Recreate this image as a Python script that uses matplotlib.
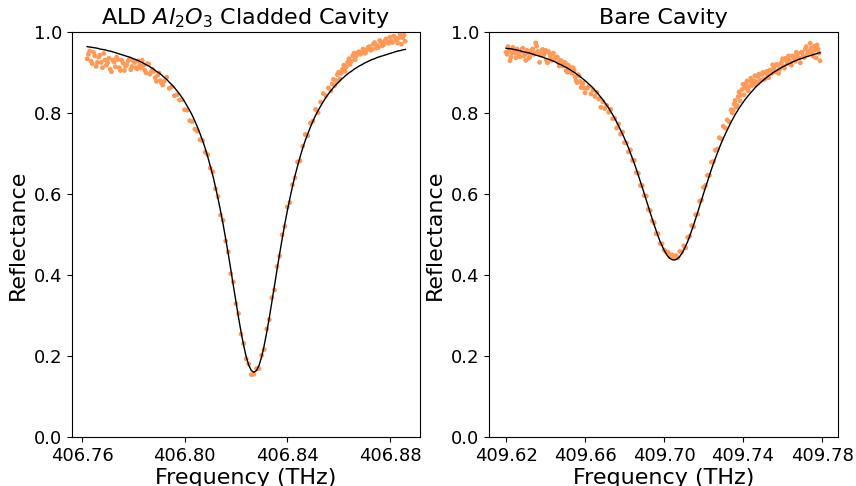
import matplotlib
matplotlib.use("Agg")
import matplotlib.pyplot as plt

# ---- left panel: ALD Al2O3 cladded cavity ----
freq_clad = [
    406.762, 406.763, 406.764, 406.765, 406.766, 406.767, 406.768, 406.769, 406.770, 406.771,
    406.772, 406.773, 406.774, 406.775, 406.776, 406.777, 406.778, 406.779, 406.780, 406.781,
    406.782, 406.783, 406.784, 406.785, 406.786, 406.787, 406.788, 406.789, 406.790, 406.791,
    406.792, 406.793, 406.794, 406.795, 406.796, 406.797, 406.798, 406.799, 406.800, 406.801,
    406.802, 406.803, 406.804, 406.805, 406.806, 406.807, 406.808, 406.809, 406.810, 406.811,
    406.812, 406.813, 406.814, 406.815, 406.816, 406.817, 406.818, 406.819, 406.820, 406.821,
    406.822, 406.823, 406.824, 406.825, 406.826, 406.827, 406.828, 406.829, 406.830, 406.831,
    406.832, 406.833, 406.834, 406.835, 406.836, 406.837, 406.838, 406.839, 406.840, 406.841,
    406.842, 406.843, 406.844, 406.845, 406.846, 406.847, 406.848, 406.849, 406.850, 406.851,
    406.852, 406.853, 406.854, 406.855, 406.856, 406.857, 406.858, 406.859, 406.860, 406.861,
    406.862, 406.863, 406.864, 406.865, 406.866, 406.867, 406.868, 406.869, 406.870, 406.871,
    406.872, 406.873, 406.874, 406.875, 406.876, 406.877, 406.878, 406.879, 406.880, 406.881,
    406.882, 406.883, 406.884, 406.885, 406.886,
]
refl_clad = [
    0.934, 0.953, 0.922, 0.941, 0.925, 0.943, 0.912, 0.931, 0.924, 0.908,
    0.931, 0.914, 0.932, 0.905, 0.923, 0.916, 0.929, 0.907, 0.929, 0.912,
    0.929, 0.911, 0.918, 0.899, 0.921, 0.902, 0.903, 0.878, 0.899, 0.874,
    0.878, 0.888, 0.861, 0.865, 0.843, 0.845, 0.832, 0.833, 0.808, 0.807,
    0.781, 0.779, 0.760, 0.755, 0.734, 0.732, 0.703, 0.697, 0.664, 0.655,
    0.613, 0.594, 0.548, 0.535, 0.484, 0.457, 0.403, 0.383, 0.329, 0.305,
    0.254, 0.231, 0.193, 0.180, 0.154, 0.155, 0.169, 0.169, 0.202, 0.216,
    0.267, 0.290, 0.344, 0.363, 0.421, 0.447, 0.499, 0.520, 0.568, 0.579,
    0.623, 0.640, 0.679, 0.682, 0.718, 0.747, 0.744, 0.775, 0.780, 0.809,
    0.801, 0.827, 0.848, 0.843, 0.862, 0.855, 0.883, 0.880, 0.901, 0.898,
    0.918, 0.914, 0.934, 0.928, 0.948, 0.942, 0.951, 0.949, 0.948, 0.956,
    0.964, 0.957, 0.974, 0.967, 0.979, 0.966, 0.978, 0.975, 0.987, 0.974,
    0.986, 0.973, 0.994, 0.986, 0.977,
]
# extra samples in the two flat wings (half steps)
freq_clad_lo = [
    406.7625, 406.7635, 406.7645, 406.7655, 406.7665, 406.7675, 406.7685, 406.7695, 406.7705, 406.7715,
    406.7725, 406.7735, 406.7745, 406.7755, 406.7765, 406.7775, 406.7785, 406.7795, 406.7805, 406.7815,
    406.7825, 406.7835, 406.7845, 406.7855, 406.7865, 406.7875, 406.7885, 406.7895, 406.7905, 406.7915,
]
refl_clad_lo = [
    0.945, 0.928, 0.950, 0.915, 0.938, 0.925, 0.947, 0.918, 0.935, 0.902,
    0.926, 0.938, 0.912, 0.930, 0.905, 0.921, 0.933, 0.915, 0.925, 0.909,
    0.918, 0.930, 0.905, 0.922, 0.896, 0.908, 0.887, 0.893, 0.880, 0.869,
]
freq_clad_hi = [
    406.8575, 406.8585, 406.8595, 406.8605, 406.8615, 406.8625, 406.8635, 406.8645, 406.8655, 406.8665,
    406.8675, 406.8685, 406.8695, 406.8705, 406.8715, 406.8725, 406.8735, 406.8745, 406.8755, 406.8765,
    406.8775, 406.8785, 406.8795, 406.8805, 406.8815, 406.8825, 406.8835, 406.8845, 406.8855,
]
refl_clad_hi = [
    0.872, 0.868, 0.895, 0.884, 0.908, 0.903, 0.925, 0.920, 0.941, 0.932,
    0.950, 0.945, 0.958, 0.948, 0.962, 0.955, 0.970, 0.960, 0.962, 0.975,
    0.968, 0.983, 0.972, 0.978, 0.990, 0.980, 0.985, 0.970, 0.992,
]
# fitted curve, read on the same frequency grid
fit_clad = [
    0.964, 0.963, 0.962, 0.961, 0.960, 0.958, 0.957, 0.956, 0.954, 0.953,
    0.951, 0.949, 0.947, 0.945, 0.943, 0.941, 0.939, 0.937, 0.934, 0.932,
    0.929, 0.926, 0.923, 0.919, 0.916, 0.912, 0.908, 0.903, 0.899, 0.894,
    0.888, 0.883, 0.876, 0.870, 0.863, 0.855, 0.847, 0.838, 0.828, 0.817,
    0.806, 0.794, 0.780, 0.765, 0.749, 0.732, 0.713, 0.692, 0.669, 0.645,
    0.618, 0.589, 0.558, 0.525, 0.489, 0.452, 0.413, 0.373, 0.334, 0.295,
    0.259, 0.226, 0.198, 0.177, 0.164, 0.160, 0.164, 0.177, 0.198, 0.226,
    0.259, 0.295, 0.334, 0.373, 0.413, 0.452, 0.489, 0.525, 0.558, 0.589,
    0.618, 0.645, 0.669, 0.692, 0.713, 0.732, 0.749, 0.765, 0.780, 0.794,
    0.806, 0.817, 0.828, 0.838, 0.847, 0.855, 0.863, 0.870, 0.876, 0.883,
    0.888, 0.894, 0.899, 0.903, 0.908, 0.912, 0.916, 0.919, 0.923, 0.926,
    0.929, 0.932, 0.934, 0.937, 0.939, 0.941, 0.943, 0.945, 0.947, 0.949,
    0.951, 0.953, 0.954, 0.956, 0.957,
]

# ---- right panel: bare cavity ----
freq_bare = [
    409.620, 409.621, 409.622, 409.623, 409.624, 409.625, 409.626, 409.627, 409.628, 409.629,
    409.630, 409.631, 409.632, 409.633, 409.634, 409.635, 409.636, 409.637, 409.638, 409.639,
    409.640, 409.641, 409.642, 409.643, 409.644, 409.645, 409.646, 409.647, 409.648, 409.649,
    409.650, 409.651, 409.652, 409.653, 409.654, 409.655, 409.656, 409.657, 409.658, 409.659,
    409.660, 409.661, 409.662, 409.663, 409.664, 409.665, 409.666, 409.667, 409.668, 409.669,
    409.670, 409.671, 409.672, 409.673, 409.674, 409.675, 409.676, 409.677, 409.678, 409.679,
    409.680, 409.681, 409.682, 409.683, 409.684, 409.685, 409.686, 409.687, 409.688, 409.689,
    409.690, 409.691, 409.692, 409.693, 409.694, 409.695, 409.696, 409.697, 409.698, 409.699,
    409.700, 409.701, 409.702, 409.703, 409.704, 409.705, 409.706, 409.707, 409.708, 409.709,
    409.710, 409.711, 409.712, 409.713, 409.714, 409.715, 409.716, 409.717, 409.718, 409.719,
    409.720, 409.721, 409.722, 409.723, 409.724, 409.725, 409.726, 409.727, 409.728, 409.729,
    409.730, 409.731, 409.732, 409.733, 409.734, 409.735, 409.736, 409.737, 409.738, 409.739,
    409.740, 409.741, 409.742, 409.743, 409.744, 409.745, 409.746, 409.747, 409.748, 409.749,
    409.750, 409.751, 409.752, 409.753, 409.754, 409.755, 409.756, 409.757, 409.758, 409.759,
    409.760, 409.761, 409.762, 409.763, 409.764, 409.765, 409.766, 409.767, 409.768, 409.769,
    409.770, 409.771, 409.772, 409.773, 409.774, 409.775, 409.776, 409.777, 409.778, 409.779,
]
refl_bare = [
    0.950, 0.964, 0.929, 0.948, 0.957, 0.936, 0.950, 0.939, 0.957, 0.941,
    0.930, 0.949, 0.938, 0.956, 0.945, 0.973, 0.952, 0.925, 0.954, 0.942,
    0.955, 0.924, 0.947, 0.930, 0.948, 0.936, 0.938, 0.916, 0.929, 0.916,
    0.924, 0.901, 0.913, 0.900, 0.912, 0.889, 0.875, 0.892, 0.863, 0.874,
    0.850, 0.861, 0.866, 0.847, 0.857, 0.841, 0.851, 0.835, 0.814, 0.828,
    0.811, 0.819, 0.802, 0.809, 0.786, 0.787, 0.763, 0.773, 0.748, 0.753,
    0.727, 0.726, 0.704, 0.709, 0.683, 0.683, 0.653, 0.651, 0.621, 0.621,
    0.596, 0.595, 0.562, 0.559, 0.534, 0.529, 0.502, 0.502, 0.478, 0.477,
    0.462, 0.458, 0.456, 0.445, 0.450, 0.443, 0.448, 0.443, 0.458, 0.457,
    0.472, 0.467, 0.493, 0.496, 0.522, 0.519, 0.549, 0.550, 0.582, 0.585,
    0.616, 0.621, 0.646, 0.646, 0.679, 0.680, 0.708, 0.711, 0.739, 0.736,
    0.767, 0.763, 0.783, 0.778, 0.808, 0.807, 0.831, 0.819, 0.852, 0.844,
    0.871, 0.863, 0.879, 0.865, 0.886, 0.871, 0.892, 0.877, 0.896, 0.881,
    0.900, 0.884, 0.903, 0.887, 0.905, 0.919, 0.902, 0.920, 0.898, 0.921,
    0.934, 0.911, 0.929, 0.941, 0.923, 0.941, 0.933, 0.950, 0.937, 0.924,
    0.950, 0.937, 0.964, 0.950, 0.972, 0.948, 0.965, 0.936, 0.958, 0.929,
]
freq_bare_lo = [
    409.6205, 409.6215, 409.6225, 409.6235, 409.6245, 409.6255, 409.6265, 409.6275, 409.6285, 409.6295,
    409.6305, 409.6315, 409.6325, 409.6335, 409.6345, 409.6355, 409.6365, 409.6375, 409.6385, 409.6395,
    409.6405, 409.6415, 409.6425, 409.6435, 409.6445, 409.6455, 409.6465, 409.6475, 409.6485, 409.6495,
    409.6505, 409.6515, 409.6525, 409.6535, 409.6545, 409.6555, 409.6565, 409.6575, 409.6585, 409.6595,
]
refl_bare_lo = [
    0.945, 0.955, 0.938, 0.962, 0.948, 0.958, 0.942, 0.952, 0.960, 0.944,
    0.955, 0.935, 0.950, 0.958, 0.947, 0.965, 0.950, 0.943, 0.957, 0.948,
    0.930, 0.952, 0.940, 0.945, 0.933, 0.938, 0.925, 0.930, 0.918, 0.925,
    0.905, 0.918, 0.912, 0.898, 0.905, 0.880, 0.895, 0.878, 0.870, 0.862,
]
freq_bare_hi = [
    409.7345, 409.7355, 409.7365, 409.7375, 409.7385, 409.7395, 409.7405, 409.7415, 409.7425, 409.7435,
    409.7445, 409.7455, 409.7465, 409.7475, 409.7485, 409.7495, 409.7505, 409.7515, 409.7525, 409.7535,
    409.7545, 409.7555, 409.7565, 409.7575, 409.7585, 409.7595, 409.7605, 409.7615, 409.7625, 409.7635,
    409.7645, 409.7655, 409.7665, 409.7675, 409.7685, 409.7695, 409.7705, 409.7715, 409.7725, 409.7735,
    409.7745, 409.7755, 409.7765, 409.7775, 409.7785,
]
refl_bare_hi = [
    0.800, 0.822, 0.815, 0.840, 0.830, 0.858, 0.845, 0.872, 0.855, 0.878,
    0.868, 0.880, 0.870, 0.890, 0.878, 0.895, 0.883, 0.900, 0.893, 0.906,
    0.898, 0.912, 0.903, 0.918, 0.908, 0.925, 0.915, 0.935, 0.922, 0.930,
    0.918, 0.940, 0.928, 0.945, 0.935, 0.950, 0.940, 0.958, 0.945, 0.952,
    0.960, 0.940, 0.955, 0.968, 0.948,
]
fit_bare = [
    0.960, 0.959, 0.959, 0.958, 0.957, 0.956, 0.955, 0.954, 0.952, 0.951,
    0.950, 0.949, 0.948, 0.946, 0.945, 0.943, 0.942, 0.940, 0.939, 0.937,
    0.935, 0.934, 0.932, 0.930, 0.928, 0.926, 0.923, 0.921, 0.919, 0.916,
    0.914, 0.911, 0.908, 0.905, 0.902, 0.899, 0.895, 0.892, 0.888, 0.884,
    0.880, 0.876, 0.871, 0.867, 0.862, 0.856, 0.851, 0.845, 0.839, 0.833,
    0.826, 0.819, 0.812, 0.804, 0.796, 0.787, 0.778, 0.768, 0.758, 0.748,
    0.737, 0.726, 0.714, 0.701, 0.688, 0.675, 0.661, 0.646, 0.631, 0.616,
    0.601, 0.585, 0.570, 0.554, 0.539, 0.524, 0.510, 0.496, 0.483, 0.472,
    0.462, 0.453, 0.446, 0.441, 0.438, 0.437, 0.438, 0.441, 0.446, 0.453,
    0.462, 0.472, 0.483, 0.496, 0.510, 0.524, 0.539, 0.554, 0.570, 0.585,
    0.601, 0.616, 0.631, 0.646, 0.661, 0.675, 0.688, 0.701, 0.714, 0.726,
    0.737, 0.748, 0.758, 0.768, 0.778, 0.787, 0.796, 0.804, 0.812, 0.819,
    0.826, 0.833, 0.839, 0.845, 0.851, 0.856, 0.862, 0.867, 0.871, 0.876,
    0.880, 0.884, 0.888, 0.892, 0.895, 0.899, 0.902, 0.905, 0.908, 0.911,
    0.914, 0.916, 0.919, 0.921, 0.923, 0.926, 0.928, 0.930, 0.932, 0.934,
    0.935, 0.937, 0.939, 0.940, 0.942, 0.943, 0.945, 0.946, 0.948, 0.949,
]

dot_color = "#ff9955"

fig = plt.figure(figsize=(8.56, 4.86), dpi=100)
ax1 = fig.add_axes([0.0841, 0.1008, 0.4065, 0.8333])
ax2 = fig.add_axes([0.5713, 0.1008, 0.4077, 0.8333])

panels = [
    (ax1, [(freq_clad, refl_clad), (freq_clad_lo, refl_clad_lo), (freq_clad_hi, refl_clad_hi)],
     freq_clad, fit_clad, r"ALD $Al_2O_3$ Cladded Cavity", [406.76, 406.80, 406.84, 406.88]),
    (ax2, [(freq_bare, refl_bare), (freq_bare_lo, refl_bare_lo), (freq_bare_hi, refl_bare_hi)],
     freq_bare, fit_bare, "Bare Cavity", [409.62, 409.66, 409.70, 409.74, 409.78]),
]

for ax, sets, lx, ly, title, xt in panels:
    for fx, fy in sets:
        ax.scatter(fx, fy, s=12, color=dot_color, edgecolors="none", zorder=2)
    ax.plot(lx, ly, color="black", lw=1.0, zorder=3)
    ax.set_ylim(0, 1)
    ax.set_xticks(xt)
    ax.set_xticklabels(["%.2f" % v for v in xt])
    ax.set_yticks([0.0, 0.2, 0.4, 0.6, 0.8, 1.0])
    ax.tick_params(labelsize=13)
    ax.set_xlabel("Frequency (THz)", fontsize=16, labelpad=2)
    ax.set_ylabel("Reflectance", fontsize=16)
    ax.set_title(title, fontsize=16)

ax1.set_xlim(406.7561, 406.8917)
ax2.set_xlim(409.6114, 409.7881)

fig.savefig("out.png", dpi=100)
